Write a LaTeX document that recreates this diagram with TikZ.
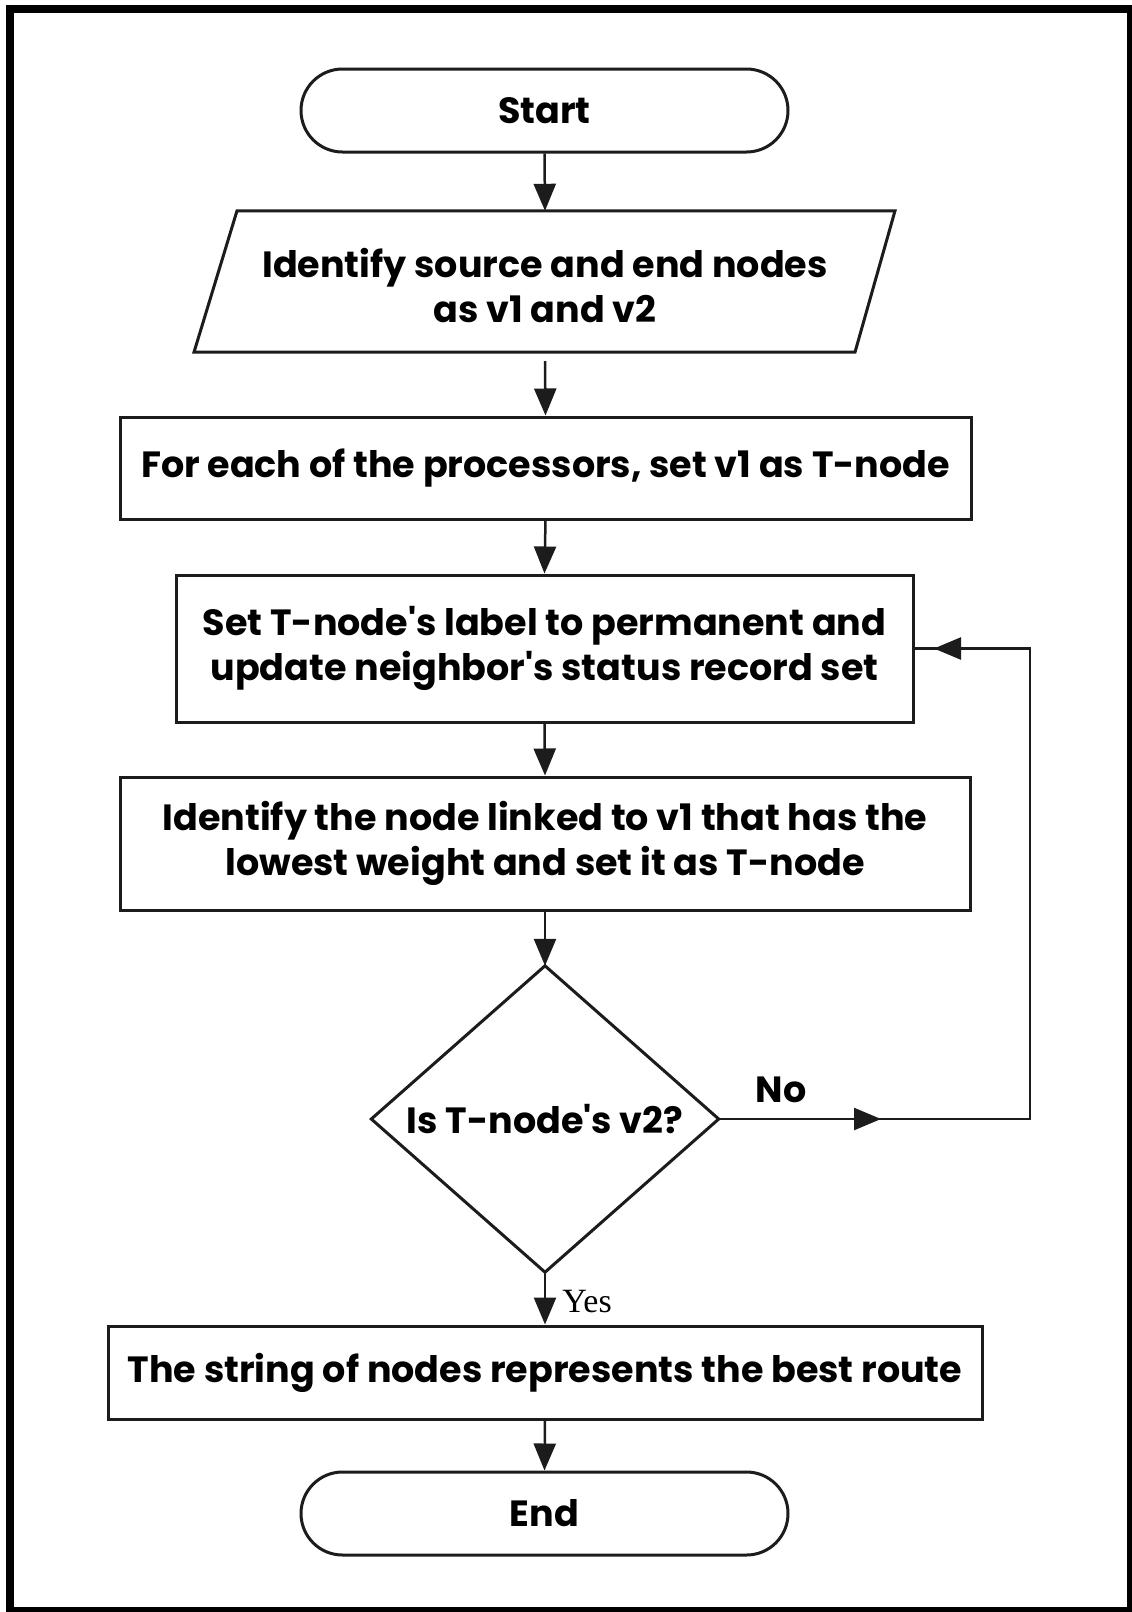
\documentclass[tikz,border=0pt]{standalone}
\usepackage{fontspec}
\newfontfamily\flowfam{Poppins}[Ligatures=TeXOff]
\newfontfamily\yesfont{Liberation Serif}
\usetikzlibrary{arrows.meta,shapes.misc}
\definecolor{ink}{RGB}{28,28,28}
\newcommand\flowfont{\flowfam\bfseries\fontsize{36.5}{45}\selectfont}

\begin{document}
\begin{tikzpicture}[x=1pt,y=-1pt,
  every node/.style={text=black},
  shapeline/.style={draw=ink, line width=3pt},
  box/.style={shapeline, rectangle, align=center, font=\flowfont, inner sep=0pt},
  term/.style={shapeline, rounded rectangle, align=center, font=\flowfont, inner sep=0pt},
  slot/.style={rectangle, align=center, font=\flowfont, inner sep=0pt},
  link/.style={draw=ink, line width=2.5pt},
  flow/.style={link, -{Triangle[length=27pt,width=22pt]}},
]
% page and frame
\fill[white] (0,0) rectangle (1132,1612);
\clip (0,0) rectangle (1132,1612);
\draw[line width=7.5pt, black] (9.75,9) rectangle (1130.5,1611);

% terminals and steps
\node[term, minimum width=487pt, minimum height=83pt] (start) at (544.5,110.5) {Start};
% input step: the node box reaches 9pt below the drawn parallelogram
\node[slot, minimum width=660pt, minimum height=150pt] (input) at (545,286) {Identify source and end nodes\\as v1 and v2};
\draw[shapeline] ([xshift=-308pt]input.north) -- ([xshift=350pt]input.north)
  -- ([xshift=310pt, yshift=9pt]input.south) -- ([xshift=-351pt, yshift=9pt]input.south) -- cycle;
\node[box, minimum width=851pt, minimum height=102pt] (init) at (545.5,468) {For each of the processors, set v1 as T-node};
\node[box, minimum width=737pt, minimum height=147pt] (label) at (544.5,648.5) {Set T-node's label to permanent and\\update neighbor's status record set};
\node[box, minimum width=850pt, minimum height=133pt] (pick) at (545,843.5) {Identify the node linked to v1 that has the\\lowest weight and set it as T-node};

% decision
\node[slot, minimum width=347pt, minimum height=306pt] (test) at (545,1119) {Is T-node's v2?};
\draw[shapeline] (test.north) -- (test.east) -- (test.south) -- (test.west) -- cycle;

\node[box, minimum width=874pt, minimum height=93pt] (route) at (545,1372.5) {The string of nodes represents the best route};
\node[term, minimum width=487pt, minimum height=83pt] (stop) at (544.5,1513.5) {End};

% main flow
\draw[flow] (start.south) -- (input.north);
\draw[flow] (input.south) -- (init.north);
\draw[flow] (init.south) -- (label.north);
\draw[flow] (label.south) -- (pick.north);
\draw[flow] (pick.south) -- (test.north);
\draw[flow] (test.south) -- (route.north);
\draw[flow] (route.south) -- (stop.north);

% loop back on "No"
\coordinate (noTurn) at (1030,1119);
\coordinate (backTurn) at (1030,648.5);
\coordinate (noTip) at (881,1119);
\coordinate (backTip) at (934,648.5);
\draw[link] (test.east) -- (noTurn) -- (backTurn) -- (label.east);
\draw[flow] (test.east) -- (noTip);
\draw[flow] (backTurn) -- (backTip);

% branch labels
\node[font=\flowfont] (no) at (781,1090) {No};
\node[font=\yesfont\fontsize{34}{40}\selectfont] (yes) at (587,1302) {Yes};
\end{tikzpicture}
\end{document}
